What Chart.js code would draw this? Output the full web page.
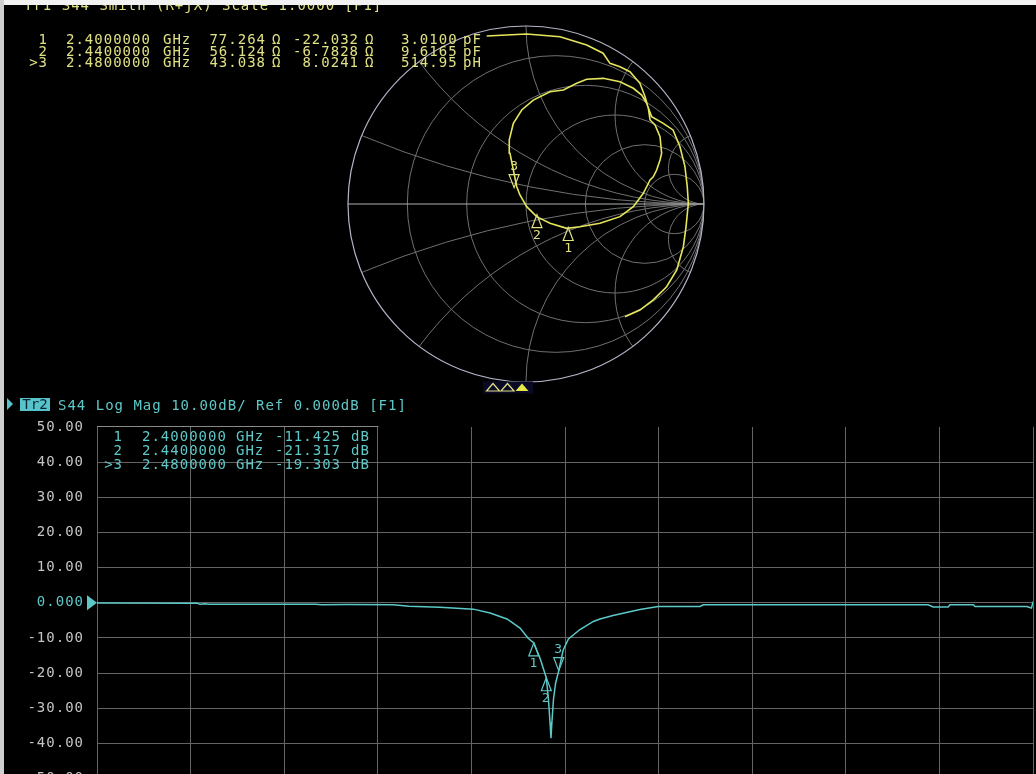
<!DOCTYPE html>
<html>
<head>
<meta charset="utf-8">
<script src="https://cdn.jsdelivr.net/npm/chart.js@4.4.1/dist/chart.umd.min.js"></script>
<style>
html,body{margin:0;padding:0;background:#000;overflow:hidden;width:1036px;height:774px;}
#wrap{position:relative;width:1036px;height:774px;overflow:hidden;background:#000;}
canvas{position:absolute;}
#logc{left:0;top:0;z-index:1;}
#smithc{left:328px;top:6px;z-index:2;}
.t{position:absolute;font-family:"DejaVu Sans Mono",monospace;font-size:14px;letter-spacing:1.0px;white-space:pre;line-height:14px;z-index:5;}
#topstrip{position:absolute;left:0;top:0;width:1036px;height:5px;background:#f2f2f2;z-index:9;}
#leftstrip{position:absolute;left:0;top:0;width:4px;height:774px;background:#cfcfcf;z-index:9;}
#tr2box{position:absolute;left:20px;top:398px;width:30px;height:13px;background:#56c4cc;color:#0c2430;font-family:"DejaVu Sans Mono",monospace;font-size:14px;line-height:13px;text-align:center;z-index:6;}
#tr2arrow{position:absolute;left:7px;top:398px;width:0;height:0;border-left:6px solid #56c4cc;border-top:6.5px solid transparent;border-bottom:6.5px solid transparent;z-index:6;}
</style>
</head>
<body>
<div id="wrap">
  <canvas id="logc" width="1036" height="800"></canvas>
  <canvas id="smithc" width="396" height="396"></canvas>
  <div id="topstrip"></div>
  <div id="leftstrip"></div>
  <div id="tr2arrow"></div>
  <div id="tr2box">Tr2</div>
</div>
<script>
// ------------------------- DATA -------------------------
// Trace 2 (Log Mag) : frequency axis ticks (GHz) and dB ticks
const freqTicks = [1.0, 1.3, 1.6, 1.9, 2.2, 2.5, 2.8, 3.1, 3.4, 3.7, 4.0];
const dbTicks = [50, 40, 30, 20, 10, 0, -10, -20, -30, -40, -50];

// S44 log magnitude
const freqGHz = [1.000, 1.320, 1.330, 1.345, 1.360, 1.700, 1.720, 1.800, 1.950, 2.000,
                 2.099, 2.206, 2.260, 2.314, 2.356, 2.381, 2.400, 2.420, 2.440, 2.447,
                 2.452, 2.455, 2.458, 2.463, 2.470, 2.480, 2.494, 2.511, 2.548, 2.591,
                 2.612, 2.654, 2.740, 2.799, 2.933, 2.943, 3.253, 3.664, 3.680, 3.728,
                 3.734, 3.809, 3.814, 3.980, 3.995, 4.000];
const magDb   = [-0.05, -0.10, -0.40, -0.25, -0.40, -0.40, -0.55, -0.50, -0.55, -0.95,
                 -1.30, -1.80, -2.90, -4.60, -7.20, -10.0, -11.425, -15.8, -21.317, -27.5,
                 -34.0, -38.5, -34.0, -27.5, -22.8, -19.303, -13.5, -10.3, -7.6, -5.3,
                 -4.6, -3.6, -1.9, -1.05, -1.05, -0.57, -0.57, -0.57, -1.20, -1.20,
                 -0.57, -0.57, -1.05, -1.05, -1.50, 0.30];

// Trace 1 (Smith chart) : reflection coefficient (in sweep order)
const gammaRe = [-0.221, 0.004, 0.191, 0.341, 0.433, 0.472, 0.528, 0.584, 0.640, 0.669,
                  0.687, 0.697, 0.725, 0.753, 0.762, 0.753, 0.734, 0.715, 0.697, 0.659,
                  0.603, 0.528, 0.416, 0.303, 0.229, 0.135, 0.060, 0.004, -0.034, -0.052,
                 -0.090, -0.094, -0.071, -0.024, 0.041, 0.135, 0.210, 0.285, 0.341, 0.434,
                  0.528, 0.603, 0.650, 0.678, 0.706, 0.771, 0.826, 0.865, 0.893, 0.906,
                  0.912, 0.899, 0.884, 0.847, 0.790, 0.715, 0.640, 0.556];
const gammaIm = [ 0.944, 0.955, 0.940, 0.893, 0.847, 0.790, 0.771, 0.743, 0.678, 0.603,
                  0.538, 0.472, 0.444, 0.378, 0.285, 0.247, 0.191, 0.153, 0.135, 0.060,
                 -0.015, -0.071, -0.108, -0.128, -0.137, -0.108, -0.071, -0.015, 0.051, 0.097,
                  0.285, 0.360, 0.453, 0.528, 0.584, 0.631, 0.640, 0.678, 0.701, 0.706,
                  0.687, 0.650, 0.612, 0.565, 0.490, 0.453, 0.416, 0.322, 0.210, 0.097,
                  0.004, -0.128, -0.240, -0.371, -0.465, -0.539, -0.596, -0.633];

// Markers
const markerNames = ['1', '2', '>3'];
const markerFreqGHz = [2.40, 2.44, 2.48];
const markerR = [77.264, 56.124, 43.038];
const markerX = [-22.032, -6.7828, 8.0241];
const markerLCValue = [3.0100, 9.6165, 514.95];
const markerLCUnit = ['pF', 'pF', 'pH'];
const markerDb = [-11.425, -21.317, -19.303];
const activeMarker = 2;

// Smith grid values
const smithR = [0.2, 0.5, 1, 2, 5];
const smithX = [0.2, 0.5, 1, 2, 5];
const Z0 = 50;

// ------------------------- STYLE -------------------------
const MONO = '"DejaVu Sans Mono", monospace';
const YEL_TRACE = '#e6e65c';
const YEL_TEXT = '#e0e084';
const CYAN = '#5ec8c8';
const CYAN_TRACE = '#5cc8c8';
const GRAY_LABEL = '#c4c4c4';
const GRID = '#646464';
const SMITH_GRID = '#707070';

// ------------------------- TEXT OVERLAYS -------------------------
const wrap = document.getElementById('wrap');
function put(text, x, yc, color, align) {
  const d = document.createElement('div');
  d.className = 't';
  d.textContent = text;
  d.style.color = color;
  d.style.top = (yc - 6.75) + 'px';
  if (align === 'right') {
    d.style.left = (x - 300 + 1) + 'px';
    d.style.width = '300px';
    d.style.textAlign = 'right';
  } else {
    d.style.left = (x - 1) + 'px';
  }
  wrap.appendChild(d);
  return d;
}
// Trace 1 title (cut by the top strip)
put('Tr1 S44 Smith (R+jX) Scale 1.0000 [F1]', 25, 5, YEL_TEXT, 'left');
// Smith marker table
const smithRows = [39, 50.5, 62];
markerNames.forEach((n, i) => {
  const y = smithRows[i];
  put(n, 47, y, YEL_TEXT, 'right');
  put(markerFreqGHz[i].toFixed(7), 67, y, YEL_TEXT, 'left');
  put('GHz', 164, y, YEL_TEXT, 'left');
  put(markerR[i].toPrecision(5), 265, y, YEL_TEXT, 'right');
  put('Ω', 273, y, YEL_TEXT, 'left');
  put(markerX[i].toPrecision(5), 358, y, YEL_TEXT, 'right');
  put('Ω', 366, y, YEL_TEXT, 'left');
  put(markerLCValue[i].toPrecision(5), 402, y, YEL_TEXT, 'left');
  put(markerLCUnit[i], 464, y, YEL_TEXT, 'left');
});
// Trace 2 title
put('S44 Log Mag 10.00dB/ Ref 0.000dB [F1]', 59, 405, CYAN, 'left');
// Log mag marker table
const logRows = [436, 450, 464];
markerNames.forEach((n, i) => {
  const y = logRows[i];
  put(n, 122, y, CYAN, 'right');
  put(markerFreqGHz[i].toFixed(7), 143, y, CYAN, 'left');
  put('GHz', 237, y, CYAN, 'left');
  put(markerDb[i].toFixed(3), 340, y, CYAN, 'right');
  put('dB', 352, y, CYAN, 'left');
});

// ------------------------- HELPERS -------------------------
function drawMarker(ctx, x, y, label, active, color) {
  ctx.save();
  ctx.strokeStyle = color;
  ctx.fillStyle = color;
  ctx.lineWidth = 1.2;
  const w = 5, h = 13;
  ctx.beginPath();
  if (active) {
    ctx.moveTo(x, y); ctx.lineTo(x - w, y - h); ctx.lineTo(x + w, y - h); ctx.closePath();
  } else {
    ctx.moveTo(x, y); ctx.lineTo(x - w, y + h); ctx.lineTo(x + w, y + h); ctx.closePath();
  }
  ctx.stroke();
  ctx.font = '13px ' + MONO;
  ctx.textAlign = 'center';
  ctx.textBaseline = 'middle';
  ctx.fillText(label, x, active ? y - 21 : y + 21);
  ctx.restore();
}
function zToGamma(r, x) {
  const a = r / Z0, b = x / Z0;
  const nr = a - 1, ni = b, dr = a + 1, di = b;
  const den = dr * dr + di * di;
  return { re: (nr * dr + ni * di) / den, im: (ni * dr - nr * di) / den };
}

// ------------------------- LOG MAG CHART -------------------------
const logPlugin = {
  id: 'logExtras',
  beforeDraw(chart) {
    chart.ctx.letterSpacing = '1.0px';
  },
  afterDraw(chart) {
    const ctx = chart.ctx;
    const xs = chart.scales.x, ys = chart.scales.y;
    const ca = chart.chartArea;
    ctx.save();
    ctx.strokeStyle = '#8a8a8a';
    ctx.lineWidth = 1;
    const yTop = Math.round(ys.getPixelForValue(dbTicks[0])) - 0.5;
    ctx.beginPath();
    ctx.moveTo(ca.left, yTop);
    ctx.lineTo(Math.round(xs.getPixelForValue(freqTicks[3])) + 0.5, yTop);
    ctx.stroke();
    const yRef = ys.getPixelForValue(0);
    ctx.fillStyle = CYAN;
    ctx.beginPath();
    ctx.moveTo(ca.left, yRef);
    ctx.lineTo(ca.left - 10, yRef - 7.5);
    ctx.lineTo(ca.left - 10, yRef + 7.5);
    ctx.closePath();
    ctx.fill();
    ctx.restore();
    markerNames.forEach((n, i) => {
      drawMarker(ctx, xs.getPixelForValue(markerFreqGHz[i]), ys.getPixelForValue(markerDb[i]),
        n.replace('>', ''), i === activeMarker, CYAN);
    });
  }
};

new Chart(document.getElementById('logc'), {
  type: 'line',
  data: {
    datasets: [{
      data: freqGHz.map((f, i) => ({ x: f, y: magDb[i] })),
      borderColor: CYAN_TRACE,
      borderWidth: 1.5,
      pointRadius: 0,
      tension: 0,
      fill: false
    }]
  },
  options: {
    responsive: false,
    animation: false,
    events: [],
    layout: { padding: { left: 0, top: 427, right: 3, bottom: 21 } },
    plugins: { legend: { display: false }, tooltip: { enabled: false } },
    scales: {
      x: {
        type: 'linear', min: freqTicks[0], max: freqTicks[freqTicks.length - 1],
        afterBuildTicks: s => { s.ticks = freqTicks.map(v => ({ value: v })); },
        afterFit: s => { s.height = 0; },
        ticks: { display: false },
        grid: { color: GRID, lineWidth: 1, drawTicks: false },
        border: { display: false }
      },
      y: {
        type: 'linear', min: dbTicks[dbTicks.length - 1], max: dbTicks[0],
        afterBuildTicks: s => { s.ticks = dbTicks.map(v => ({ value: v })); },
        afterFit: s => { s.width = 97; },
        ticks: {
          padding: 13,
          autoSkip: false,
          color: c => (c.tick && c.tick.value === 0) ? CYAN : GRAY_LABEL,
          font: { family: MONO, size: 14 },
          callback: v => v === 0 ? '0.000' : Number(v).toFixed(2)
        },
        grid: {
          color: c => (c.tick && c.tick.value === dbTicks[0]) ? 'rgba(0,0,0,0)' : GRID,
          lineWidth: 1, drawTicks: false
        },
        border: { display: false }
      }
    }
  },
  plugins: [logPlugin]
});

// ------------------------- SMITH CHART -------------------------
const smithPlugin = {
  id: 'smithGrid',
  beforeDatasetsDraw(chart) {
    const ctx = chart.ctx;
    const xs = chart.scales.x, ys = chart.scales.y;
    const cx = xs.getPixelForValue(0), cy = ys.getPixelForValue(0);
    const R = xs.getPixelForValue(1) - cx;
    ctx.save();
    ctx.beginPath();
    ctx.arc(cx, cy, R, 0, Math.PI * 2);
    ctx.clip();
    ctx.strokeStyle = SMITH_GRID;
    ctx.lineWidth = 1;
    smithR.forEach(r => {
      ctx.beginPath();
      ctx.arc(cx + R * r / (1 + r), cy, R / (1 + r), 0, Math.PI * 2);
      ctx.stroke();
    });
    smithX.forEach(x => {
      [1, -1].forEach(sg => {
        ctx.beginPath();
        ctx.arc(cx + R, cy - sg * R / x, R / x, 0, Math.PI * 2);
        ctx.stroke();
      });
    });
    ctx.restore();
    ctx.save();
    ctx.strokeStyle = '#b4b4c8';
    ctx.lineWidth = 1.2;
    ctx.beginPath();
    ctx.arc(cx, cy, R, 0, Math.PI * 2);
    ctx.stroke();
    ctx.strokeStyle = '#b0b0b0';
    ctx.lineWidth = 1.2;
    ctx.beginPath();
    ctx.moveTo(cx - R, cy);
    ctx.lineTo(cx + R, cy);
    ctx.stroke();
    ctx.restore();
  },
  afterDatasetsDraw(chart) {
    const ctx = chart.ctx;
    const xs = chart.scales.x, ys = chart.scales.y;
    const cx = xs.getPixelForValue(0), cy = ys.getPixelForValue(0);
    const R = xs.getPixelForValue(1) - cx;
    markerNames.forEach((n, i) => {
      const g = zToGamma(markerR[i], markerX[i]);
      drawMarker(ctx, xs.getPixelForValue(g.re), ys.getPixelForValue(g.im),
        n.replace('>', ''), i === activeMarker, YEL_TEXT);
    });
    ctx.save();
    const by = cy + R + 9;
    ctx.fillStyle = '#0a0a26';
    ctx.fillRect(cx - 43, cy + R - 0.5, 50, 12);
    markerNames.forEach((n, i) => {
      const mx = cx - 33 + i * 14.5;
      ctx.beginPath();
      ctx.moveTo(mx, by - 7.5);
      ctx.lineTo(mx - 6.5, by);
      ctx.lineTo(mx + 6.5, by);
      ctx.closePath();
      if (i === activeMarker) {
        ctx.fillStyle = '#e8e848';
        ctx.fill();
      } else {
        ctx.strokeStyle = YEL_TEXT;
        ctx.lineWidth = 1.2;
        ctx.stroke();
      }
    });
    ctx.restore();
  }
};

new Chart(document.getElementById('smithc'), {
  type: 'scatter',
  data: {
    datasets: [{
      data: gammaRe.map((r, i) => ({ x: r, y: gammaIm[i] })),
      showLine: true,
      borderColor: YEL_TRACE,
      borderWidth: 1.6,
      pointRadius: 0,
      tension: 0
    }]
  },
  options: {
    responsive: false,
    animation: false,
    events: [],
    layout: { padding: 20 },
    plugins: { legend: { display: false }, tooltip: { enabled: false } },
    scales: {
      x: { type: 'linear', min: -1, max: 1, display: false },
      y: { type: 'linear', min: -1, max: 1, display: false }
    }
  },
  plugins: [smithPlugin]
});
</script>
</body>
</html>
